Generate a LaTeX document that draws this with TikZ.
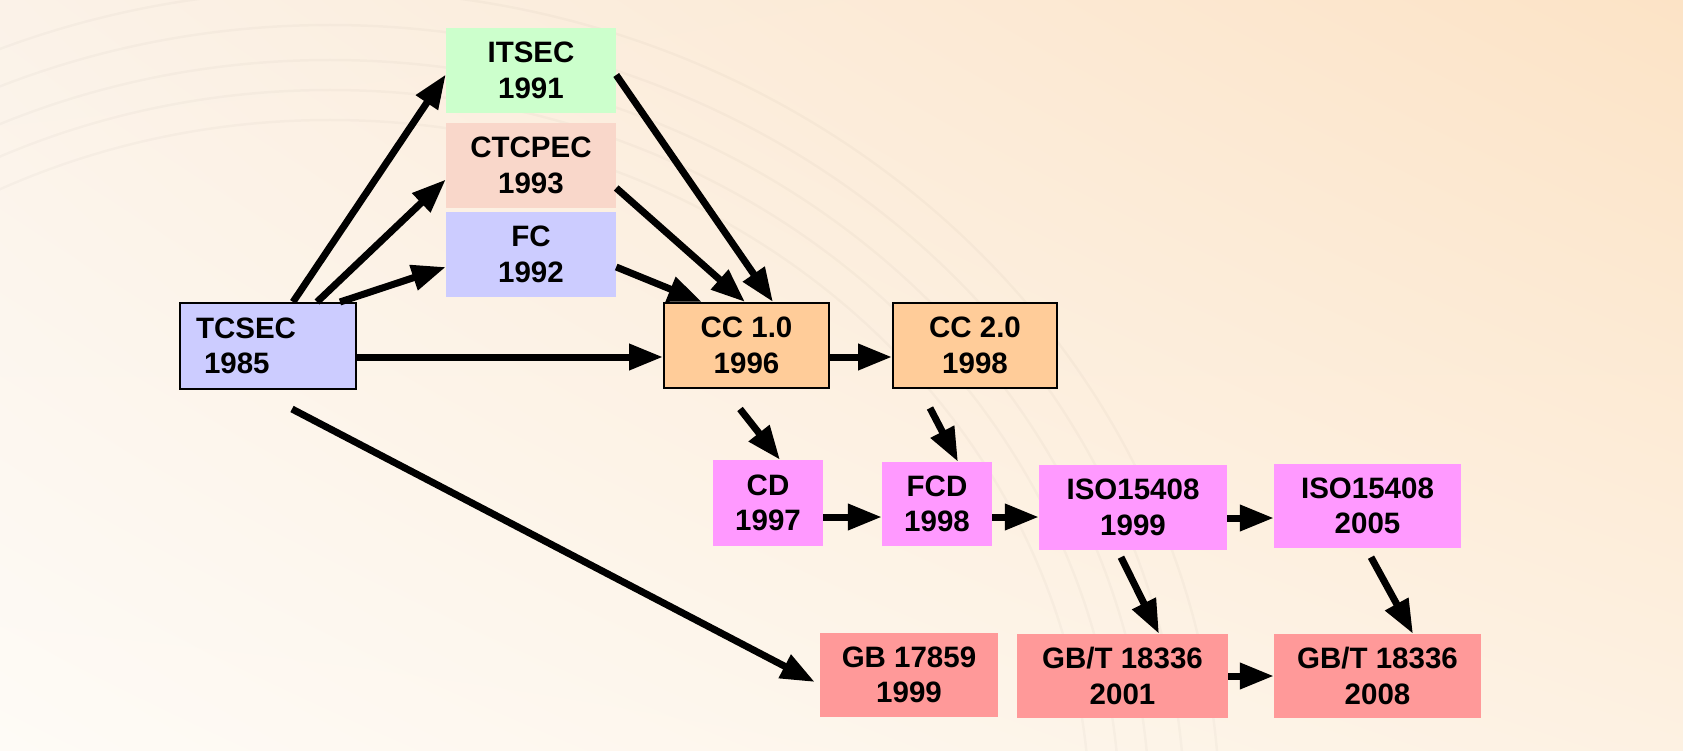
\documentclass[tikz,border=0pt]{standalone}
\usepackage{fontspec}
\setmainfont{Liberation Sans}
\usetikzlibrary{arrows.meta,shadings}
\definecolor{bgA}{HTML}{FEFBF6}
\definecolor{bgB}{HTML}{FBF2E8}
\definecolor{bgC}{HTML}{FCE3C6}
\definecolor{bgD}{HTML}{FDF1E2}
\definecolor{cGreen}{HTML}{CCFFCC}
\definecolor{cSalmon}{HTML}{F9D7CA}
\definecolor{cBlue}{HTML}{CCCCFF}
\definecolor{cOrange}{HTML}{FFCC99}
\definecolor{cPink}{HTML}{FF99FF}
\definecolor{cRed}{HTML}{FF9999}
\tikzset{
  box/.style={rectangle, inner sep=0pt, align=center,
    font=\fontsize{29.5}{35.5}\selectfont\bfseries},
  framed/.style={draw=black, line width=2pt},
  arr/.style={draw=black, line width=7pt,
    -{Triangle[length=34pt,width=25pt]}},
  ring/.style={draw=black, draw opacity=0.022, line width=2.5pt}
}
\begin{document}
\begin{tikzpicture}[x=1pt,y=-1pt]
\shade[upper left=bgB, upper right=bgC, lower left=bgA, lower right=bgD]
  (0,0) rectangle (1683,751);
\useasboundingbox (0,0) rectangle (1683,751);
\foreach \r in {0,30,60,95,130}{
  \draw[ring] (330,820) ellipse ({760+\r} and {700+\r});
}
% nodes
\node[box, fill=cGreen, minimum width=170pt, minimum height=85pt] (itsec) at (531,70.5) {ITSEC\\1991};
\node[box, fill=cSalmon, minimum width=170pt, minimum height=85pt] (ctcpec) at (531,165.5) {CTCPEC\\1993};
\node[box, fill=cBlue, minimum width=170pt, minimum height=85pt] (fc) at (531,254.5) {FC\\1992};
\node[box, framed, fill=cBlue, minimum width=176pt, minimum height=86pt, align=left, text width=144pt] (tcsec) at (268,346) {TCSEC\\\hspace*{8pt}1985};
\node[box, framed, fill=cOrange, minimum width=165pt, minimum height=85pt] (cc1) at (746.5,345.5) {CC 1.0\\1996};
\node[box, framed, fill=cOrange, minimum width=164pt, minimum height=85pt] (cc2) at (975,345.5) {CC 2.0\\1998};
\node[box, fill=cPink, minimum width=110pt, minimum height=86pt] (cd) at (768,503) {CD\\1997};
\node[box, fill=cPink, minimum width=110pt, minimum height=84pt] (fcd) at (937,504) {FCD\\1998};
\node[box, fill=cPink, minimum width=188pt, minimum height=85pt] (iso99) at (1133,507.5) {ISO15408\\1999};
\node[box, fill=cPink, minimum width=187pt, minimum height=84pt] (iso05) at (1367.5,506) {ISO15408\\2005};
\node[box, fill=cRed, minimum width=178pt, minimum height=84pt] (gb) at (909,675) {GB 17859\\1999};
\node[box, fill=cRed, minimum width=211pt, minimum height=84pt] (gbt01) at (1122.5,676) {GB/T 18336\\2001};
\node[box, fill=cRed, minimum width=207pt, minimum height=84pt] (gbt08) at (1377.5,676) {GB/T 18336\\2008};
% connectors
\draw[arr] ([xshift=25pt]tcsec.north) -- ([yshift=-4pt]itsec.west);
\draw[arr] ([xshift=49pt]tcsec.north) -- ([yshift=-14pt]ctcpec.west);
\draw[arr] ([xshift=72pt]tcsec.north) -- ([yshift=-12.5pt]fc.west);
\draw[arr] ([yshift=-11pt]tcsec.east) -- ([yshift=-11.5pt]cc1.west);
\draw[arr] ([yshift=-4.5pt]itsec.east) -- ([xshift=26.5pt]cc1.north);
\draw[arr] ([yshift=-22.5pt]ctcpec.east) -- ([xshift=-1.5pt]cc1.north);
\draw[arr] ([yshift=-12.5pt]fc.east) -- ([xshift=-44.5pt]cc1.north);
\draw[arr] ([yshift=-11.5pt]cc1.east) -- ([yshift=-11.5pt]cc2.west);
\draw[arr] ([xshift=-6.5pt,yshift=-20pt]cc1.south) -- ([xshift=12pt]cd.north);
\draw[arr] ([xshift=-45pt,yshift=-19pt]cc2.south) -- ([xshift=21pt]fcd.north);
\draw[arr] ([yshift=-14pt]cd.east) -- ([yshift=-13pt]fcd.west);
\draw[arr] ([yshift=-13pt]fcd.east) -- ([yshift=-9.5pt]iso99.west);
\draw[arr] ([yshift=-10.5pt]iso99.east) -- ([yshift=-12pt]iso05.west);
\draw[arr] ([xshift=-12pt,yshift=-7pt]iso99.south) -- ([xshift=36.5pt]gbt01.north);
\draw[arr] ([xshift=3.5pt,yshift=-9pt]iso05.south) -- ([xshift=35.5pt]gbt08.north);
\draw[arr] (gbt01.east) -- (gbt08.west);
\draw[arr] ([xshift=24pt,yshift=-19pt]tcsec.south) -- ([xshift=-5pt,yshift=-7pt]gb.west);
\end{tikzpicture}
\end{document}
